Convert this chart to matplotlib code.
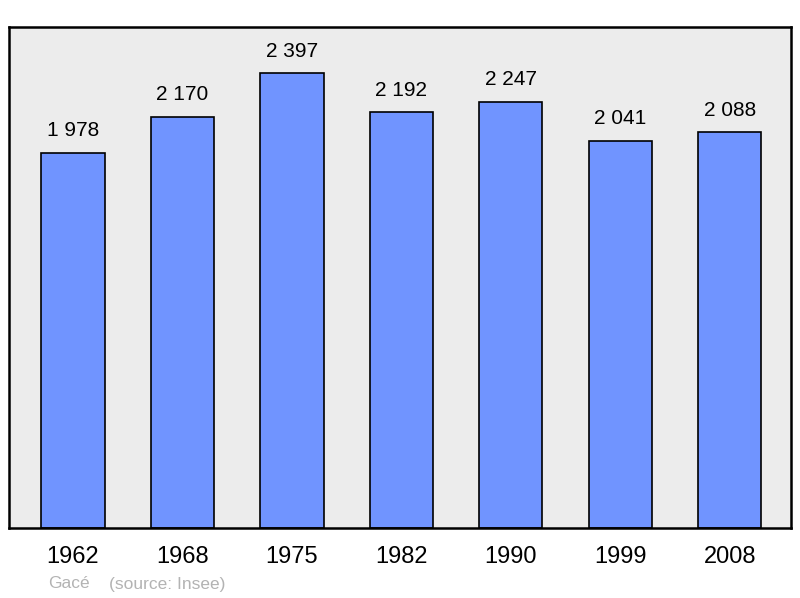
import matplotlib
matplotlib.use('Agg')
import matplotlib.pyplot as plt
import numpy as np

matplotlib.rc('font', family='Liberation Sans')

years = ['1962', '1968', '1975', '1982', '1990', '1999', '2008']
population = [1978, 2170, 2397, 2192, 2247, 2041, 2088]
value_labels = ['1 978', '2 170', '2 397', '2 192', '2 247', '2 041', '2 088']
town = 'Gacé'
source = '(source: Insee)'

fig = plt.figure(figsize=(8, 5.98), dpi=100)
ax = fig.add_axes([9/800, 70/598, 782/800, 501/598])
ax.set_facecolor('#ececec')

x = np.arange(len(years))
ax.bar(x, population, width=0.578, color='#7094ff', edgecolor='black', linewidth=1.2, zorder=2)
for xi, v, lab in zip(x, population, value_labels):
    ax.annotate(lab, (xi, v), xytext=(0, 9), textcoords='offset points',
                ha='center', va='bottom', fontsize=15)

ax.set_xlim(-0.585, 6.56)
ax.set_ylim(0, 2642)
ax.set_yticks([])
ax.set_xticks(x)
ax.set_xticklabels(years, fontsize=17)
ax.tick_params(axis='x', length=0, pad=13)
for s in ax.spines.values():
    s.set_linewidth(1.8)

fig.text(48/800, 1 - 584/598, town, color='#b3b3b3', fontsize=12.5, va='center')
fig.text(109/800, 1 - 584/598, source, color='#b3b3b3', fontsize=12.5, va='center')

fig.savefig('out.png', dpi=100)
